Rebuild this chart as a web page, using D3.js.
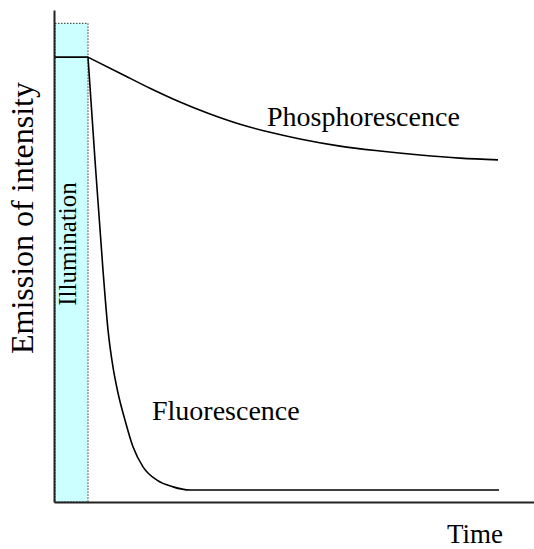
<!DOCTYPE html>
<html>
<head>
<meta charset="utf-8">
<script src="https://cdn.jsdelivr.net/npm/d3@7"></script>
<style>
  html, body { margin: 0; padding: 0; background: #fff; }
</style>
</head>
<body>
<div id="chart"></div>
<script>
// ============================================================
// Emission decay: fluorescence vs phosphorescence after illumination
// ============================================================

// time axis (arbitrary units) and intensity (% of illumination level)
const ILLUM_TIME   = [0, 34];
const ILLUM_LEVEL  = 100;
const ILLUM_BOX    = { t0: 1, t1: 34, top: 107.6 };

const FLUOR_T = [34, 41, 49, 54, 59, 64, 71, 79, 89, 103, 119, 136, 445];
const FLUOR_I = [100, 76.9, 52.1, 38.7, 30.3, 24.5, 18.4, 12.4, 7.9, 4.9, 3.4, 2.7, 2.7];

const PHOS_T = [34, 66, 96, 126, 156, 186, 216, 246, 286, 326, 366, 406, 444];
const PHOS_I = [100, 96.4, 93.0, 89.9, 87.2, 84.9, 83.1, 81.6, 80.0, 78.9, 78.0, 77.3, 76.9];

const LABELS = [
  { text: 'Phosphorescence', t: 213, i: 84.5, size: 28 },
  { text: 'Fluorescence',    t: 98,  i: 18.5, size: 28 },
];

const SERIF = '"Liberation Serif", "Times New Roman", Times, "DejaVu Serif", serif';

const W = 534, H = 549;
const svg = d3.select('#chart').append('svg')
  .attr('width', W).attr('height', H)
  .style('font-family', SERIF);

const x = d3.scaleLinear().domain([0, 480]).range([54, 534]);
const y = d3.scaleLinear().domain([0, 110.6]).range([502, 10]);

// illumination band
svg.append('rect')
  .attr('x', x(ILLUM_BOX.t0))
  .attr('y', y(ILLUM_BOX.top))
  .attr('width', x(ILLUM_BOX.t1) - x(ILLUM_BOX.t0))
  .attr('height', y(0) - y(ILLUM_BOX.top))
  .attr('fill', '#ccffff')
  .attr('stroke', '#333')
  .attr('stroke-width', 1)
  .attr('stroke-dasharray', '1.5,1.5');

svg.append('text')
  .attr('transform', `translate(${x(ILLUM_BOX.t1) - 12},${y(58)}) rotate(-90)`)
  .attr('text-anchor', 'middle')
  .attr('font-family', SERIF)
  .attr('font-size', 25)
  .text('Illumination');

const line = d3.line()
  .x(d => x(d[0]))
  .y(d => y(d[1]))
  .curve(d3.curveMonotoneX);

// level during illumination
svg.append('path')
  .datum(ILLUM_TIME.map(t => [t, ILLUM_LEVEL]))
  .attr('d', line)
  .attr('fill', 'none')
  .attr('stroke', '#000')
  .attr('stroke-width', 1.6);

svg.append('path')
  .datum(PHOS_T.map((t, k) => [t, PHOS_I[k]]))
  .attr('d', line)
  .attr('fill', 'none')
  .attr('stroke', '#000')
  .attr('stroke-width', 1.6);

svg.append('path')
  .datum(FLUOR_T.map((t, k) => [t, FLUOR_I[k]]))
  .attr('d', line)
  .attr('fill', 'none')
  .attr('stroke', '#000')
  .attr('stroke-width', 1.6);

// axes (no ticks, just the domain lines)
svg.append('g')
  .attr('transform', `translate(0,${y(0)})`)
  .call(d3.axisBottom(x).tickValues([]).tickSizeOuter(0))
  .select('.domain').attr('stroke', '#222').attr('stroke-width', 2);

svg.append('g')
  .attr('transform', `translate(${x(0)},0)`)
  .call(d3.axisLeft(y).tickValues([]).tickSizeOuter(0))
  .select('.domain').attr('stroke', '#222').attr('stroke-width', 2);

// curve labels
svg.selectAll('.curve-label')
  .data(LABELS)
  .join('text')
  .attr('class', 'curve-label')
  .attr('x', d => x(d.t))
  .attr('y', d => y(d.i))
  .attr('font-family', SERIF)
  .attr('font-size', d => d.size)
  .text(d => d.text);

// axis titles
svg.append('text')
  .attr('x', 475).attr('y', 543)
  .attr('text-anchor', 'middle')
  .attr('font-family', SERIF)
  .attr('font-size', 27)
  .text('Time');

svg.append('text')
  .attr('transform', 'translate(33,218) rotate(-90)')
  .attr('text-anchor', 'middle')
  .attr('font-family', SERIF)
  .attr('font-size', 32)
  .text('Emission of intensity');
</script>
</body>
</html>
